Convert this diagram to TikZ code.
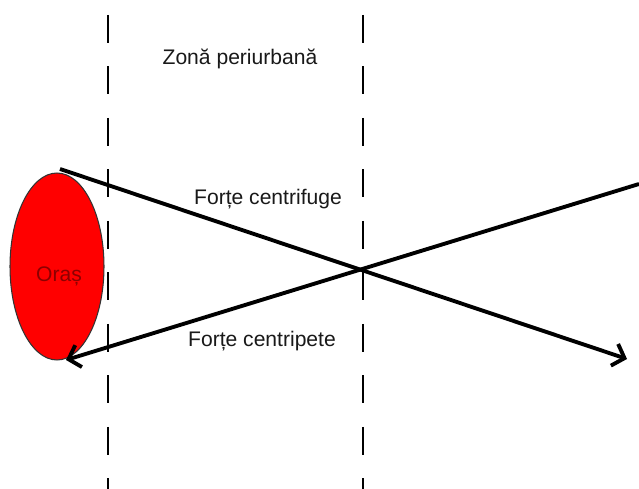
\documentclass[tikz,border=0pt]{standalone}
\usepackage{fontspec}
\setmainfont{Liberation Sans}
\usetikzlibrary{arrows.meta,shapes.geometric}

\begin{document}
\begin{tikzpicture}[x=0.02cm, y=-0.02cm, >={Straight Barb[length=6pt,width=13pt]},
  font=\fontsize{12}{14}\selectfont,
  limit/.style={draw, line width=0.6pt, dash pattern=on 15.9pt off 13.4pt, dash phase=20.8pt},
  force/.style={draw, line width=2.2pt, ->},
  lab/.style={anchor=base, inner sep=0pt, text=black!90}]
  \fill[white] (0,0) rectangle (639,489);
  \useasboundingbox (0,0) rectangle (639,489);
  % zone limits
  \foreach \n/\x in {a/108,b/363}{\coordinate (\n top) at (\x,0); \coordinate (\n bot) at (\x,489);}
  \draw[limit] (atop)--(abot); \draw[limit] (btop)--(bbot);
  % city
  \node[ellipse, draw=black!80, fill=red, line width=0.6pt, minimum width=1.88cm, minimum height=3.74cm, inner sep=0pt] (oras) at (57,266.5) {};
  \node[lab, text=red!55!black] (orastxt) at (59,282) {Oraș};
  % forces
  \coordinate (f1) at (60,169); \coordinate (f2) at (627,359);
  \coordinate (p1) at (639,184); \coordinate (p2) at (66,360);
  \draw[force] (f1)--(f2);
  \draw[force] (p1)--(p2);
  \node[lab] (zona) at (240,65) {Zonă periurbană};
  \node[lab] (cfug) at (268,205) {Forțe centrifuge};
  \node[lab] (cpet) at (262,347) {Forțe centripete};
\end{tikzpicture}
\end{document}
